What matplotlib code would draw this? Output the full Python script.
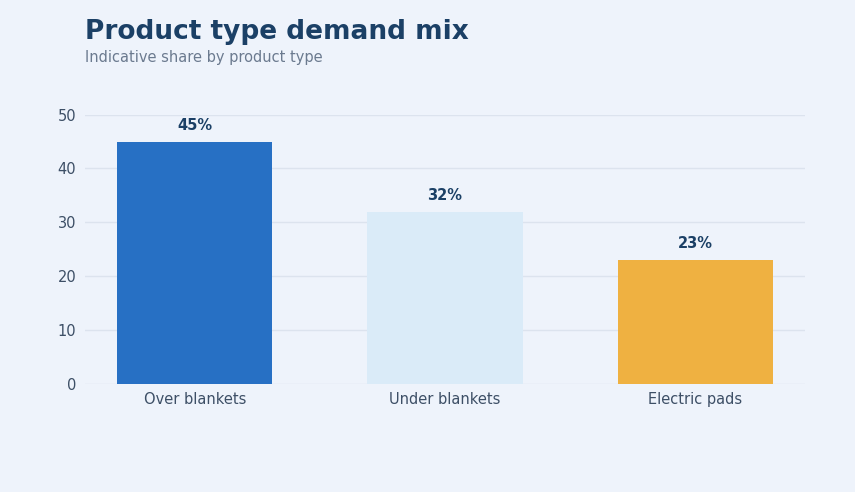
import matplotlib.pyplot as plt

categories = ['Over blankets', 'Under blankets', 'Electric pads']
shares = [45, 32, 23]
colors = ['#2770C4', '#DAEBF8', '#EFB141']

bg = '#EEF3FB'
plt.rcParams['font.family'] = ['DejaVu Sans Condensed', 'DejaVu Sans']

fig = plt.figure(figsize=(8.55, 4.92), dpi=100, facecolor=bg)
ax = fig.add_axes([0.099, 0.22, 0.843, 0.547], facecolor=bg)

x = range(len(categories))
ax.bar(x, shares, width=0.62, color=colors, zorder=3)
for xi, v in zip(x, shares):
    ax.text(xi, v + 1.6, f'{v}%', ha='center', va='bottom', fontsize=10.5,
            fontweight='bold', color='#1B4066')

ax.set_xlim(-0.44, 2.44)
ax.set_ylim(0, 50)
ax.set_yticks([0, 10, 20, 30, 40, 50])
ax.set_xticks(list(x))
ax.set_xticklabels(categories)
ax.grid(axis='y', color='#DCE3EE', linewidth=1, zorder=0)
ax.tick_params(length=0, labelsize=10.5, labelcolor='#3D4F66', pad=6)
for s in ax.spines.values():
    s.set_visible(False)

fig.text(0.099, 0.92, 'Product type demand mix', fontsize=19, fontweight='bold',
         color='#1B4066', va='baseline')
fig.text(0.099, 0.873, 'Indicative share by product type', fontsize=10.5,
         color='#6B7A8F', va='baseline')

fig.savefig('out.png', dpi=100, facecolor=bg)
